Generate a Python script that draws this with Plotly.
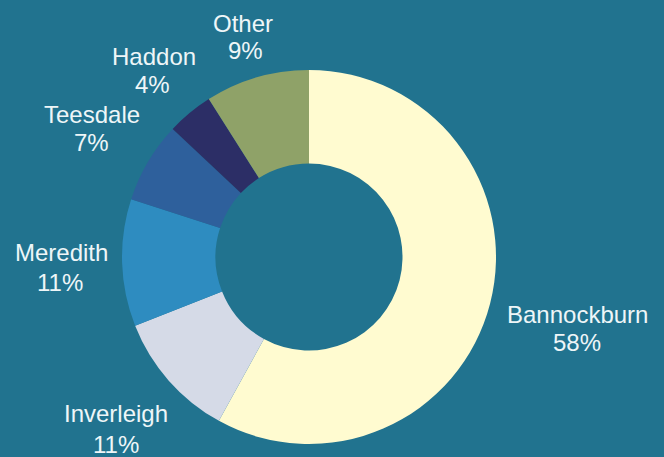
import plotly.graph_objects as go

labels = ["Bannockburn", "Inverleigh", "Meredith", "Teesdale", "Haddon", "Other"]
values = [58, 11, 11, 7, 4, 9]
colors = ["#fffbd0", "#d5dae7", "#2e8cc0", "#2e609c", "#2c2e66", "#8fa268"]

W, H = 664, 457
BG = "#21738f"
TXT = "#eef6f8"

# label placement (pixel centres of the name line and the percent line)
label_pos = {
    "Bannockburn": (577, 314, 577, 342),
    "Inverleigh": (116, 413, 116, 444),
    "Meredith": (61, 253, 60, 282),
    "Teesdale": (92, 114, 91, 143),
    "Haddon": (154, 56, 152, 85),
    "Other": (243, 23, 245, 51),
}

cx, cy, r = 309, 257, 187

fig = go.Figure(go.Pie(
    labels=labels,
    values=values,
    hole=0.5,
    sort=False,
    direction="clockwise",
    rotation=0,
    marker=dict(colors=colors, line=dict(width=0)),
    textinfo="none",
    hoverinfo="label+percent",
    showlegend=False,
    domain=dict(x=[(cx - r) / W, (cx + r) / W],
                y=[(H - cy - r) / H, (H - cy + r) / H]),
))

total = sum(values)
annotations = []
for lab, val in zip(labels, values):
    x1, y1, x2, y2 = label_pos[lab]
    pct = f"{round(100 * val / total)}%"
    for txt, x, y in ((lab, x1, y1), (pct, x2, y2)):
        annotations.append(dict(
            text=txt, x=x / W, y=1 - y / H, xref="paper", yref="paper",
            xanchor="center", yanchor="middle", showarrow=False,
            font=dict(family="Liberation Sans, Arial, sans-serif", size=24, color=TXT),
        ))

fig.update_layout(
    width=W, height=H,
    margin=dict(l=0, r=0, t=0, b=0),
    paper_bgcolor=BG, plot_bgcolor=BG,
    annotations=annotations,
)

fig.write_html(
    "out.html",
    config={"displayModeBar": False},
    post_script="document.body.style.margin='0';document.body.style.background='" + BG + "';",
)
